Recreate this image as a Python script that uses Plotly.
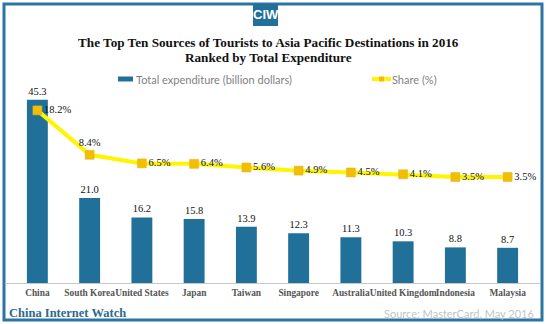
import plotly.graph_objects as go

# Data
countries = ["China", "South Korea", "United States", "Japan", "Taiwan",
             "Singapore", "Australia", "United Kingdom", "Indonesia", "Malaysia"]
expenditure = [45.3, 21.0, 16.2, 15.8, 13.9, 12.3, 11.3, 10.3, 8.8, 8.7]
share = [18.2, 8.4, 6.5, 6.4, 5.6, 4.9, 4.5, 4.1, 3.5, 3.5]
share_labels = [f"{v:.1f}%" for v in share]
share_positions = ["middle right", "top center"] + ["middle right"] * 8

W, H = 546, 324
L, R, T, B = 5, 540, 90, 283  # plot area in pixels

BLUE = "#21709A"
BORDER = "#2C74A1"
YELLOW = "#FFF500"
GOLD = "#F4BE00"


def px(x):
    return (x - L) / (R - L)


def py(y):
    return (B - y) / (B - T)


fig = go.Figure()

fig.add_trace(go.Bar(
    x=countries, y=expenditure,
    marker=dict(color=BLUE, line=dict(width=0)),
    width=0.4,
    text=[f"{v:.1f}" for v in expenditure],
    textposition="outside",
    textfont=dict(family="Liberation Serif", size=10.5, color="#111111"),
    cliponaxis=False,
    showlegend=False,
    name="Total expenditure (billion dollars)",
))

fig.add_trace(go.Scatter(
    x=countries, y=share, yaxis="y2",
    mode="lines+markers+text",
    line=dict(color=YELLOW, width=4),
    marker=dict(symbol="square", size=9, color=GOLD,
                line=dict(color="#D8B040", width=0.5)),
    text=share_labels,
    textposition=share_positions,
    textfont=dict(family="Liberation Serif", size=10.5, color="#111111"),
    cliponaxis=False,
    showlegend=False,
    name="Share (%)",
))

shapes = [
    # outer frame
    dict(type="rect", xref="paper", yref="paper",
         x0=px(4), x1=px(542), y0=py(320), y1=py(4),
         line=dict(color=BORDER, width=3), fillcolor="rgba(0,0,0,0)", layer="below"),
    # logo box
    dict(type="rect", xref="paper", yref="paper",
         x0=px(253), x1=px(278), y0=py(26), y1=py(4),
         line=dict(width=0), fillcolor="#22709A"),
    # legend: bar swatch
    dict(type="rect", xref="paper", yref="paper",
         x0=px(118), x1=px(133), y0=py(81.5), y1=py(76.5),
         line=dict(width=0), fillcolor=BLUE),
    # legend: line swatch
    dict(type="line", xref="paper", yref="paper",
         x0=px(372), x1=px(391), y0=py(79), y1=py(79),
         line=dict(color=YELLOW, width=4)),
    dict(type="rect", xref="paper", yref="paper",
         x0=px(379), x1=px(384), y0=py(81.5), y1=py(76.5),
         line=dict(width=0), fillcolor=GOLD),
]

annotations = [
    dict(text="<b>CIW</b>", x=px(265.5), y=py(15), xref="paper", yref="paper",
         showarrow=False, xanchor="center", yanchor="middle",
         font=dict(family="Liberation Sans Narrow, Liberation Sans", size=13, color="white")),
    dict(text="<b>The Top Ten Sources of Tourists to Asia Pacific Destinations in 2016</b>",
         x=px(268), y=py(42), xref="paper", yref="paper", showarrow=False,
         xanchor="center", yanchor="middle",
         font=dict(family="Liberation Serif", size=13.2, color="#111111")),
    dict(text="<b>Ranked by Total Expenditure</b>",
         x=px(268), y=py(57.5), xref="paper", yref="paper", showarrow=False,
         xanchor="center", yanchor="middle",
         font=dict(family="Liberation Serif", size=13.2, color="#111111")),
    dict(text="Total expenditure (billion dollars)",
         x=px(134), y=py(79), xref="paper", yref="paper", showarrow=False,
         xanchor="left", yanchor="middle",
         font=dict(family="Lato", size=11, color="#7F7F7F")),
    dict(text="Share (%)",
         x=px(390), y=py(79), xref="paper", yref="paper", showarrow=False,
         xanchor="left", yanchor="middle",
         font=dict(family="Lato", size=11, color="#7F7F7F")),
    dict(text="<b>China Internet Watch</b>",
         x=px(7), y=py(313), xref="paper", yref="paper", showarrow=False,
         xanchor="left", yanchor="middle",
         font=dict(family="Liberation Serif", size=12.5, color="#2C6A90")),
    dict(text="Source: MasterCard, May 2016",
         x=px(536), y=py(313), xref="paper", yref="paper", showarrow=False,
         xanchor="right", yanchor="middle",
         font=dict(family="Lato", size=11, color="#C4C4C4")),
]

fig.update_layout(
    width=W, height=H,
    margin=dict(l=L, r=W - R, t=T, b=H - B),
    paper_bgcolor="white", plot_bgcolor="white",
    bargap=0.6,
    xaxis=dict(
        type="category",
        showline=True, linecolor="#C8C8C8", linewidth=1,
        showgrid=False, ticks="",
        tickangle=0,
        tickfont=dict(family="Liberation Serif", size=9.4, color="#555555", weight="bold"),
        ticklabelstandoff=1,
    ),
    yaxis=dict(range=[0, 47.7], visible=False, showgrid=False),
    yaxis2=dict(range=[-19.9, 22.7], overlaying="y", visible=False, showgrid=False),
    shapes=shapes,
    annotations=annotations,
    showlegend=False,
)

fig.write_html("out.html")
